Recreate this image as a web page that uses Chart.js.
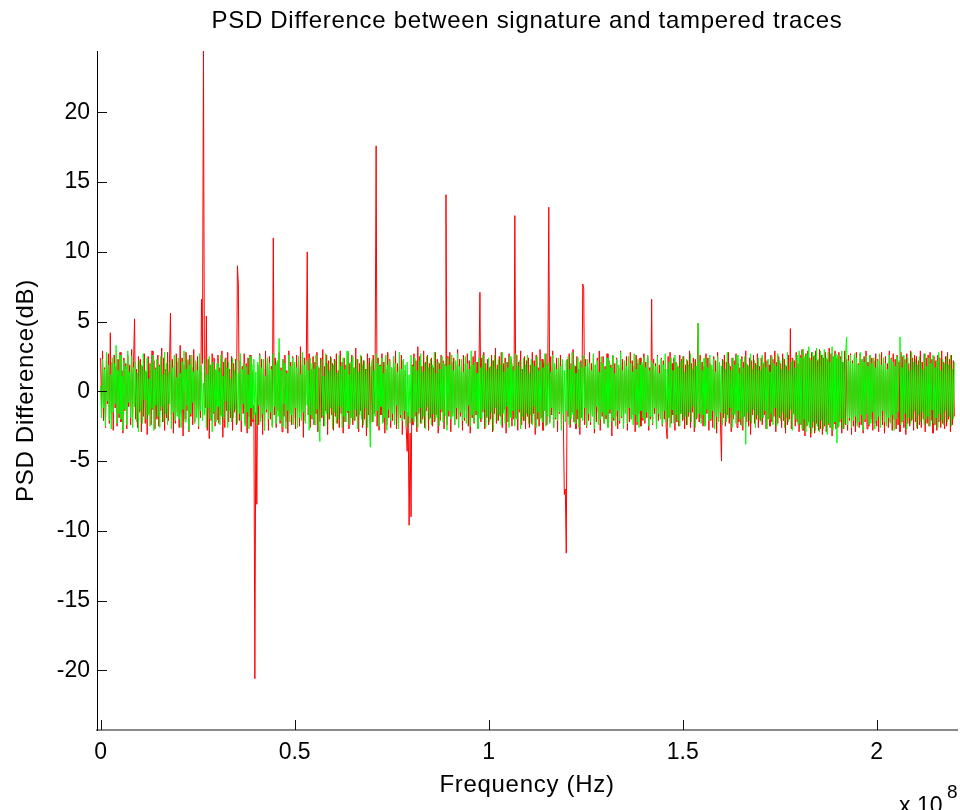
<!DOCTYPE html>
<html>
<head>
<meta charset="utf-8">
<title>PSD Difference</title>
<script src="https://cdn.jsdelivr.net/npm/chart.js@4.4.1/dist/chart.umd.min.js"></script>
<style>
  html, body { margin: 0; padding: 0; background: #fff; }
  #wrap { width: 960px; height: 810px; }
</style>
</head>
<body>
<div id="wrap"><canvas id="psdChart" width="960" height="810"></canvas></div>
<script>
// frequency bins are 0.25 MHz apart, starting at 0 Hz
const binStep = 0.25e6;

// PSD difference, tampered trace (green)
const greenValues = [
  0.4, -1.9, 2.3, -1.2, 1.6, -2.5, 2.8, -0.7, 1.9, -2.1, 1.2, -2.7, 2.4, -1.5, 2.0, -0.9, 3.3, -2.3, 1.5, -1.6,
  2.6, -2.0, 1.1, -2.8, 2.2, -1.3, 1.8, -2.4, 2.9, -0.8, 1.4, -1.9, 2.5, -2.6, 1.7, -1.1, 2.1, -2.2, 1.3, -2.9,
  2.2, -1.4, 1.9, -2.3, 2.7, -0.6, 1.5, -2.0, 2.4, -1.7, 0.9, -2.5, 2.0, -1.2, 2.6, -2.8, 1.6, -1.0, 2.3, -1.8,
  1.8, -2.6, 2.5, -1.1, 1.2, -2.2, 2.8, -1.6, 2.0, -2.4, 1.4, -0.9, 2.2, -2.7, 1.7, -1.5, 2.6, -2.1, 1.0, -1.8,
  2.4, -2.0, 1.3, -2.6, 2.1, -1.3, 2.9, -2.2, 1.6, -1.0, 2.3, -2.8, 1.9, -1.6, 2.6, -0.8, 1.4, -2.3, 2.2, -1.9,
  1.5, -2.5, 2.7, -1.4, 1.8, -2.1, 0.6, -1.7, 2.3, -2.6, 1.2, -1.2, 2.5, -2.0, 1.9, -2.9, 2.1, -1.5, 1.6, -2.2,
  2.0, -1.1, 1.4, -2.4, 2.6, -1.8, 1.1, -2.0, 2.3, -0.7, 1.7, -2.6, 2.1, -1.4, 0.9, -2.2, 2.4, -1.9, 1.5, -1.3,
  2.2, -2.3, 1.3, -1.6, 2.7, -2.1, 1.6, -0.9, 2.0, -2.5, 1.8, -1.5, 1.2, -2.7, 2.5, -1.2, 1.9, -2.0, 2.3, -1.7,
  1.4, -2.4, 2.1, -1.0, 2.6, -2.2, 1.7, -1.6, 2.3, -2.8, 1.1, -1.3, 2.4, -2.0, 2.0, -1.5, 1.6, -2.6, 2.7, -1.1,
  1.9, -2.3, 2.2, -1.8, 3.8, -2.1, 1.5, -2.5, 2.3, -0.9, 2.0, -2.7, 1.3, -1.4, 2.6, -2.2, 1.8, -1.7, 2.4, -2.4,
  2.1, -1.2, 1.7, -2.6, 2.5, -1.9, 1.2, -2.1, 2.8, -1.5, 1.9, -2.3, 2.2, -1.0, 1.5, -2.8, 2.4, -1.7, 2.0, -2.0,
  1.6, -2.4, 2.6, -1.3, 1.8, -2.2, -3.6, 1.4, 2.3, -1.8, 1.1, -2.5, 2.7, -1.6, 2.0, -2.0, 1.5, -1.2, 2.4, -2.7,
  1.9, -1.5, 2.2, -2.3, 1.3, -2.0, 2.6, -1.1, 1.8, -2.6, 2.4, -1.8, 1.6, -2.2, 2.9, -1.4, 1.2, -2.4, 2.1, -1.9,
  2.5, -2.1, 1.7, -1.3, 2.3, -2.7, 1.4, -1.7, 2.6, -2.0, 1.9, -2.4, 2.2, -1.2, 1.6, -2.6, 2.0, -1.5, -4.0, 1.8,
  2.3, -2.2, 1.5, -1.8, 2.7, -1.4, 2.0, -2.5, 1.8, -1.1, 2.4, -2.3, 1.3, -1.9, 2.6, -2.8, 1.9, -1.3, 2.2, -2.1,
  1.7, -1.6, 2.5, -2.4, 2.0, -1.0, 1.4, -2.7, 2.8, -1.7, 1.6, -2.1, 2.3, -1.4, 1.9, -2.5, 2.1, -1.8, 1.2, -2.3,
  2.6, -1.9, 1.8, -2.2, 2.4, -1.5, 1.5, -2.6, 2.2, -1.2, 2.7, -2.3, 1.4, -1.8, 2.0, -2.7, 2.5, -1.1, 1.7, -2.0,
  2.3, -2.4, 1.9, -1.6, 2.8, -2.1, 1.3, -1.9, 2.1, -2.5, 1.6, -1.3, 2.5, -2.2, 2.0, -1.7, 1.8, -2.8, 2.4, -1.4,
  1.9, -2.0, 2.6, -1.8, 1.5, -2.4, 2.2, -1.2, 2.7, -2.6, 1.8, -1.5, 2.3, -2.1, 1.4, -1.9, 2.5, -2.3, 2.0, -1.0,
  1.6, -2.5, 2.9, -1.7, 1.9, -2.2, 2.1, -1.4, 1.3, -2.7, 2.4, -1.9, 1.7, -2.0, 2.6, -1.3, 2.0, -2.6, 1.5, -1.8,
  2.4, -2.2, 1.8, -1.5, 2.2, -2.8, 2.6, -1.2, 1.6, -2.1, 2.3, -1.7, 1.9, -2.4, 2.8, -1.6, 1.4, -2.3, 2.1, -1.1,
  1.7, -2.6, 2.5, -1.9, 2.0, -1.4, 1.5, -2.5, 2.7, -2.0, 1.8, -1.3, 2.2, -2.7, 1.6, -1.8, 2.4, -2.1, 1.9, -1.6,
  2.6, -2.3, 1.3, -1.7, 2.3, -2.4, 2.0, -1.1, 1.8, -2.6, 2.5, -1.5, 1.5, -2.0, 2.2, -2.2, 1.7, -1.4, 2.7, -2.5,
  1.9, -1.8, 2.1, -2.3, 1.4, -1.2, 2.6, -2.6, 2.0, -1.9, 1.6, -2.1, 2.4, -1.5, 1.8, -2.8, 2.3, -1.6, 1.5, -2.2,
  2.2, -1.4, 2.5, -2.4, 1.6, -2.0, 2.8, -1.7, 1.9, -2.3, 1.3, -1.3, 2.4, -2.6, 2.1, -1.9, 1.7, -2.1, 2.6, -1.2,
  1.8, -2.5, 2.3, -1.6, 2.0, -2.2, 1.5, -1.8, 2.7, -2.7, 1.9, -1.1, 2.2, -2.4, 1.4, -2.0, 2.5, -1.5, 2.0, -2.3,
  1.6, -1.7, 2.4, -2.6, 2.1, -1.3, 1.7, -2.2, 2.6, -1.9, 1.3, -2.5, 2.3, -1.4, 1.9, -2.1, 2.8, -1.8, 1.5, -2.7,
  2.2, -1.6, 1.8, -2.3, 2.5, -1.2, 2.0, -2.0, 1.4, -2.4, 2.7, -1.7, 1.6, -2.2, 2.3, -2.6, 1.9, -1.4, 2.1, -1.9,
  2.4, -2.1, 1.7, -1.5, 2.6, -2.5, 1.5, -1.8, 2.2, -2.3, 2.0, -1.2, 1.8, -2.7, 2.5, -1.6, 1.3, -2.0, 2.3, -2.4,
  1.9, -1.4, 2.7, -2.2, 1.6, -1.9, 2.1, -2.6, 2.4, -1.3, 1.5, -2.3, 2.6, -1.7, 2.0, -2.1, 1.7, -2.5, 2.2, -1.6,
  2.5, -2.0, 1.4, -1.8, 2.3, -2.4, 1.9, -1.5, 2.7, -2.2, 1.6, -1.1, 2.1, -2.6, 1.8, -1.9, 4.9, -1.6, 2.2, -2.3,
  1.5, -1.7, 2.4, -2.5, 2.0, -1.3, 1.7, -2.1, 2.6, -2.0, 1.9, -1.4, 2.3, -2.7, 1.4, -1.8, 2.5, -2.2, 2.1, -1.5,
  1.8, -2.4, 2.2, -1.6, 1.6, -2.2, 2.8, -1.9, 2.0, -1.2, 1.5, -2.6, 2.4, -1.7, 1.9, -2.3, 2.6, -1.4, 1.3, -2.0,
  2.3, -2.5, 1.7, -1.8, 2.5, -3.8, 2.0, -1.5, 1.8, -2.1, 2.7, -2.3, 1.6, -1.3, 2.2, -2.6, 1.9, -1.7, 2.4, -2.0,
  1.5, -2.2, 2.6, -1.9, 2.1, -1.4, 1.7, -2.7, 2.3, -2.0, 1.4, -1.6, 2.5, -2.4, 2.0, -1.2, 1.8, -2.5, 2.7, -1.8,
  2.2, -2.1, 1.6, -1.5, 2.4, -2.6, 1.9, -1.9, 2.8, -2.2, 1.5, -1.3, 2.1, -2.8, 2.3, -1.7, 1.7, -2.0, 2.6, -2.4,
  2.9, -2.3, 2.4, -2.7, 3.0, -2.0, 2.5, -2.9, 2.7, -2.4, 3.2, -2.6, 2.2, -3.0, 2.8, -2.2, 2.6, -2.8, 3.1, -2.5,
  2.3, -2.9, 2.9, -2.1, 2.6, -2.7, 3.0, -2.4, 2.4, -3.1, 2.8, -2.3, 2.1, -2.6, 3.2, -2.8, 2.5, -2.2, 2.7, -3.7,
  2.6, -2.5, 2.3, -2.0, 2.9, -2.7, 2.1, -2.3, 2.8, 3.9, -2.4, 2.2, -1.9, 2.6, -2.6, 2.0, -2.1, 2.7, -1.8, 2.4,
  -2.5, 1.9, -2.2, 2.8, -1.7, 2.3, -2.8, 2.1, -2.0, 2.5, -1.6, 1.8, -2.4, 2.6, -2.3, 2.0, -1.5, 2.4, -2.7, 1.7,
  -2.1, 2.2, -1.8, 2.7, -2.6, 1.9, -1.4, 2.4, -2.2, 2.0, -2.5, 1.6, -1.9, 2.6, -2.3, 2.3, -1.7, 2.1, -2.8, 1.8,
  -2.0, 2.5, -1.5, 2.2, 3.9, -2.4, 1.7, -2.1, 2.6, -1.6, 2.0, -2.7, 2.4, -1.9, 1.5, -2.3, 2.8, -2.0, 2.1, -1.4,
  2.3, -2.6, 1.9, -1.7, 2.5, -2.2, 2.1, -1.5, 1.6, -2.4, 2.7, -2.0, 1.8, -1.8, 2.4, -2.5, 2.0, -1.3, 2.6, -2.3,
  1.7, -1.9, 2.2, -2.6, 2.8, -1.6, 1.5, -2.1, 2.3, -2.4, 2.0, -1.4, 2.5, -2.2, 1.9, -1.8, 2.6, -2.5, 1.6, -2.0,
  2.1
];

// PSD difference, signature trace (red)
const redValues = [
  2.4, -1.3, 2.9, -2.1, 1.7, -2.6, 2.2, -0.9, 2.7, -2.3, 4.2, -1.6, 2.1, -2.8, 2.6, -1.2, 1.8, -2.5, 2.3, -1.9,
  2.8, -2.2, 1.5, -3.0, 2.4, -1.4, 2.0, -2.7, 2.6, -1.1, 1.9, -2.4, 3.0, -1.7, 2.2, 5.2, -2.0, 1.6, -2.6, 2.5,
  -1.5, 2.3, -2.9, 1.8, -1.8, 2.7, -2.3, 1.4, -3.1, 2.5, -1.6, 2.0, -2.4, 2.9, -1.3, 2.2, -2.7, 1.7, -2.0, 2.6,
  -2.5, 1.9, -1.4, 3.1, -2.2, 2.4, -2.8, 1.6, -1.9, 2.8, -2.1, 2.0, 5.6, -1.7, 2.3, -3.0, 1.8, -2.3, 2.7, -1.5,
  2.1, -2.6, 3.3, -1.6, 2.4, -3.2, 1.9, -2.0, 2.8, -1.4, 2.2, -2.9, 2.6, -1.8, 1.7, -2.4, 3.0, -2.2, 2.0, -1.3,
  2.5, -2.7, 1.8, -1.9, 6.6, 2.0, 24.4, 1.4, -1.2, 5.4, -2.8, 2.3, -3.4, 1.9, -2.1, 2.7, -1.6, 2.4, -2.5, 1.5,
  -2.0, 2.6, -2.3, 1.7, -1.7, 2.9, -3.3, 2.1, -2.6, 2.4, -1.4, 2.8, -2.2, 1.6, -1.9, 2.5, -2.8, 2.0, -1.5, 2.3,
  -2.4, 9.0, 7.7, -2.1, 2.2, -2.9, 1.8, -1.6, 2.7, -2.3, 2.0, -3.0, 2.4, -1.8, 2.6, -2.5, 1.5, -2.2, -1.0, -20.6,
  -1.5, -8.1, 1.9, -2.4, 2.7, -1.9, 2.3, -3.1, 1.6, -2.1, 2.9, -1.5, 2.2, -2.8, 2.5, -2.0, 1.8, -2.5, 11.0, -1.7,
  2.4, -2.6, 2.0, -1.4, 2.8, -2.3, 1.7, -2.9, 2.3, -1.8, 2.6, -2.2, 1.5, -3.0, 2.9, -1.6, 2.1, -2.4, 2.5, -1.9,
  1.8, -2.7, 2.6, -1.5, 2.2, -2.5, 3.2, -1.8, 1.9, -3.3, 2.4, -2.1, 2.0, 10.0, -1.7, 2.7, -2.6, 1.6, -2.0, 2.5,
  -2.4, 2.1, -1.6, 2.8, -2.9, 1.7, -2.2, 2.4, -1.9, 3.0, -2.5, 1.8, -1.4, 2.6, -3.1, 2.2, -2.0, 2.5, -1.7, 2.0,
  -2.8, 2.3, -1.8, 2.7, -2.3, 1.5, -2.6, 2.9, -1.6, 2.1, -3.0, 2.4, -2.2, 1.9, -1.5, 2.8, -2.7, 2.0, -1.9, 2.6,
  -2.4, 1.7, -2.1, 3.1, -1.8, 2.3, -2.9, 2.0, -1.4, 2.5, -2.6, 2.2, -2.0, 1.6, -3.2, 2.7, -1.7, 2.4, -2.3, 1.8,
  -2.2, 2.6, -1.6, 2.0, 17.6, -2.5, 2.4, -2.8, 1.9, -1.7, 2.7, -2.2, 2.1, -3.0, 1.6, -2.4, 2.8, -1.9, 2.3, -2.6,
  1.7, -2.1, 2.5, -1.5, 2.9, -2.7, 2.0, -2.3, 1.8, -1.9, 2.6, -3.1, 2.2, -2.0, 1.5, -2.6, -4.3, -1.5, -9.6, -3.0,
  -9.0, 1.9, -2.4, 2.7, -1.8, 2.2, -2.9, 3.2, -1.6, 2.5, -2.3, 1.8, -2.0, 2.9, -2.6, 2.1, -1.4, 2.6, -2.8, 2.0,
  -1.9, 2.4, -2.5, 1.7, -2.2, 2.8, -1.7, 2.3, -3.0, 2.0, -2.1, 2.6, -1.5, 2.2, -2.7, 1.9, 14.1, -2.4, 2.5, -1.8,
  2.8, -2.9, 2.1, -1.6, 2.4, -2.4, 1.9, -2.0, 3.0, -2.6, 2.3, -1.8, 1.7, -2.8, 2.6, -2.1, 2.0, -1.4, 2.7, -2.5,
  2.2, -3.0, 1.8, -1.9, 2.5, -2.3, 2.9, -1.7, 2.1, -2.6, 1.6, 7.1, -2.2, 2.4, -1.5, 2.8, -2.7, 2.0, -1.9, 2.3,
  -2.4, 1.7, -2.0, 2.6, -2.9, 2.2, -1.6, 3.1, -2.3, 1.9, -2.1, 2.5, -1.8, 2.8, -2.6, 2.0, -1.3, 2.4, -3.0, 2.1,
  -2.2, 2.7, -1.7, 2.3, -2.5, 1.8, -2.0, 12.6, -1.9, 2.6, -2.8, 2.1, -1.5, 2.9, -2.4, 1.6, -2.1, 2.5, -2.7, 2.2,
  -1.8, 2.4, -2.6, 1.9, -2.3, 2.8, -1.6, 2.2, -3.1, 2.6, -2.0, 1.7, -2.5, 3.0, -1.9, 2.3, -2.8, 2.0, -1.4, 2.7,
  -2.4, 2.1, 13.2, -2.2, 2.5, -1.7, 2.9, -2.6, 1.8, -2.0, 2.4, -2.9, 2.2, -1.6, 2.6, -2.3, 1.9, -2.1, -7.4, -7.0,
  -11.6, 2.3, -1.8, 2.7, -2.6, 2.0, -1.5, 3.0, -2.2, 1.8, -2.7, 2.5, -2.0, 1.6, -3.1, 2.2, -1.9, 7.7, 7.4, -2.4,
  2.3, -2.6, 1.7, -2.1, 2.8, -2.4, 2.0, -1.7, 2.6, -3.0, 1.9, -2.2, 2.4, -1.5, 2.9, -2.8, 2.1, -1.8, 2.5, -2.3,
  1.8, -2.0, 2.7, -2.5, 2.2, -1.6, 1.9, -3.2, 2.6, -2.1, 2.0, -1.8, 2.4, -2.7, 1.7, -2.3, 2.9, -1.9, 2.3, -2.6,
  2.1, -1.5, 2.5, -2.8, 1.6, -2.2, 2.8, -2.0, 2.2, -1.7, 1.8, -2.9, 2.6, -2.4, 2.0, -1.6, 2.4, -2.5, 1.9, -2.1,
  2.7, -2.3, 2.1, -1.9, 2.5, -2.8, 1.7, -2.0, 6.6, -2.4, 2.3, -1.6, 2.0, -2.7, 2.6, -2.1, 1.9, -1.8, 2.4, -2.5,
  2.2, -2.0, 1.6, -2.6, -3.4, 2.5, -1.9, 2.8, -2.3, 2.0, -1.7, 2.4, -2.8, 2.1, -2.2, 1.8, -2.5, 2.6, -1.6, 2.3,
  -2.1, 2.5, -2.7, 1.9, -2.4, 2.2, -1.8, 2.9, -2.6, 2.0, -1.5, 2.4, -2.9, 2.3, -2.0, 1.7, 4.9, -2.2, 2.6, -1.9,
  2.1, -2.5, 1.8, -2.3, 2.7, -1.6, 2.4, -2.8, 2.0, -2.1, 1.6, -2.6, 2.5, -1.8, 2.2, -3.0, 2.8, -2.2, 1.9, -2.4,
  -5.0, 2.3, -1.9, 2.6, -2.5, 2.1, -1.7, 2.8, -2.3, 1.8, -2.9, 2.4, -2.0, 2.2, -1.6, 2.7, -2.6, 2.0, -2.2, 1.7,
  -2.4, 2.5, -2.8, 2.1, -1.8, 2.9, -2.2, 1.9, -2.5, 2.4, -3.1, 2.2, -1.7, 2.6, -2.3, 2.0, -2.0, 2.7, -2.6, 1.8,
  -2.1, 2.4, -2.4, 2.0, -1.7, 2.8, -2.7, 2.2, -2.0, 1.9, -2.5, 2.6, -2.2, 2.3, -1.8, 2.9, -2.9, 2.1, -2.3, 2.5,
  -1.9, 2.0, -2.6, 2.7, -2.1, 2.3, -3.0, 1.8, -2.4, 2.6, -2.0, 4.5, -2.7, 2.4, -1.6, 2.2, -2.5, 2.8, -2.2, 2.0,
  -2.9, 2.6, -2.4, 3.0, -2.8, 2.3, -3.2, 2.7, -2.5, 2.9, -2.2, 2.4, -3.3, 2.8, -2.6, 2.5, -3.0, 2.9, -2.3, 2.2,
  -2.8, 3.0, -2.7, 2.6, -3.1, 2.4, -2.5, 2.8, -2.9, 2.3, -2.4, 3.1, -2.6, 2.7, -3.2, 2.5, -2.3, 2.9, -2.7, 2.4,
  -2.6, 2.8, -2.2, 2.5, -3.0, 2.1, -2.7, 2.9, -2.4, 2.3, -2.8, 2.6, -2.1, 2.7, -3.1, 2.2, -2.5, 2.4, -2.9, 2.8,
  -2.3, 2.0, -2.6, 2.7, -2.4, 2.3, -3.0, 2.5, -2.2, 2.9, -2.7, 2.1, -2.5, 2.6, -2.0, 2.4, -2.8, 2.2, -2.3, 2.7,
  -2.5, 2.3, -2.9, 2.6, -2.1, 2.8, -2.4, 2.2, -3.0, 2.5, -2.3, 2.0, -2.6, 2.9, -2.2, 2.4, -2.8, 2.7, -2.0, 2.3,
  -2.7, 2.6, -2.4, 2.1, -2.9, 2.8, -2.2, 2.5, -2.6, 2.3, -3.1, 2.7, -2.3, 2.0, -2.5, 2.9, -2.1, 2.4, -2.8, 2.6,
  -2.2, 2.5, -2.7, 2.2, -2.4, 2.9, -2.6, 2.1, -2.0, 2.7, -2.9, 2.4, -2.3, 2.6, -2.5, 2.8, -2.1, 2.3, -3.0, 2.5,
  -2.4, 2.2, -2.8, 2.6, -2.2, 2.4, -2.6, 2.9, -2.3, 2.1, -2.7, 2.5, -2.5, 2.8, -2.0, 2.3, -2.9, 2.6, -2.4, 2.2,
  -1.8
];

const xTickValues = [0, 0.5e8, 1e8, 1.5e8, 2e8];
const xTickLabels = ["0", "0.5", "1", "1.5", "2"];
const yTickValues = [-20, -15, -10, -5, 0, 5, 10, 15, 20];

const titleText = "PSD Difference between signature and tampered traces";
const xTitle = "Frequency (Hz)";
const yTitle = "PSD Difference(dB)";

const fontFamily = '"Liberation Sans", Arial, Helvetica, sans-serif';

function toPoints(values) {
  return values.map((v, i) => ({ x: i * binStep, y: v }));
}

// inward tick marks plus the title / axis labels, MATLAB style
const matlabAxes = {
  id: "matlabAxes",
  afterDraw(chart) {
    const { ctx, chartArea: area, scales } = chart;
    const xs = scales.x;
    const ys = scales.y;
    ctx.save();

    ctx.strokeStyle = "#111";
    ctx.lineWidth = 1;
    ctx.beginPath();
    yTickValues.forEach((v) => {
      const py = Math.round(ys.getPixelForValue(v)) + 0.5;
      ctx.moveTo(area.left, py);
      ctx.lineTo(area.left + 10, py);
    });
    xTickValues.forEach((v) => {
      const px = Math.round(xs.getPixelForValue(v)) + 0.5;
      ctx.moveTo(px, area.bottom);
      ctx.lineTo(px, area.bottom - 10);
    });
    ctx.stroke();

    const midX = (area.left + area.right) / 2;
    const midY = (area.top + area.bottom) / 2;
    ctx.fillStyle = "#000";
    ctx.textAlign = "center";
    ctx.textBaseline = "alphabetic";
    ctx.font = "24px " + fontFamily;
    ctx.letterSpacing = "0.7px";
    ctx.fillText(titleText, midX, 28);
    ctx.fillText(xTitle, midX, 792);

    ctx.save();
    ctx.translate(33, midY);
    ctx.rotate(-Math.PI / 2);
    ctx.fillText(yTitle, 0, 0);
    ctx.restore();

    ctx.letterSpacing = "0px";
    ctx.textAlign = "left";
    ctx.font = "23px " + fontFamily;
    ctx.fillText("x 10", 899, 813);
    ctx.font = "19px " + fontFamily;
    ctx.fillText("8", 947, 798);
    ctx.restore();
  },
};

const ctx = document.getElementById("psdChart").getContext("2d");
const chart = new Chart(ctx, {
  type: "line",
  data: {
    datasets: [
      {
        label: "tampered",
        data: toPoints(greenValues),
        borderColor: "#00ff00",
        borderWidth: 1,
        pointRadius: 0,
        fill: false,
        tension: 0,
        order: 0,
      },
      {
        label: "signature",
        data: toPoints(redValues),
        borderColor: "#ff0000",
        borderWidth: 1,
        pointRadius: 0,
        fill: false,
        tension: 0,
        order: 1,
      },
    ],
  },
  options: {
    responsive: false,
    animation: false,
    events: [],
    layout: {
      padding: { top: 51, right: 3, bottom: 0, left: 0 },
    },
    plugins: {
      legend: { display: false },
      tooltip: { enabled: false },
      title: { display: false },
    },
    scales: {
      x: {
        type: "linear",
        min: -0.0093e8,
        max: 2.2069e8,
        afterBuildTicks: (scale) => {
          scale.ticks = xTickValues.map((v) => ({ value: v }));
        },
        afterFit: (scale) => {
          scale.height = 80;
        },
        grid: { display: false, drawTicks: false },
        border: { display: true, color: "#8a8a8a", width: 2 },
        ticks: {
          autoSkip: false,
          maxRotation: 0,
          padding: 9,
          color: "#000",
          font: { family: fontFamily, size: 23 },
          callback: (value, index) => xTickLabels[index],
        },
      },
      y: {
        type: "linear",
        min: -24.28,
        max: 24.4,
        afterBuildTicks: (scale) => {
          scale.ticks = yTickValues.map((v) => ({ value: v }));
        },
        afterFit: (scale) => {
          scale.width = 97;
        },
        grid: { display: false, drawTicks: false },
        border: { display: true, color: "#000", width: 1 },
        ticks: {
          autoSkip: false,
          padding: 7,
          color: "#000",
          font: { family: fontFamily, size: 23 },
          callback: (value) => String(value),
        },
      },
    },
  },
  plugins: [matlabAxes],
});
</script>
</body>
</html>
